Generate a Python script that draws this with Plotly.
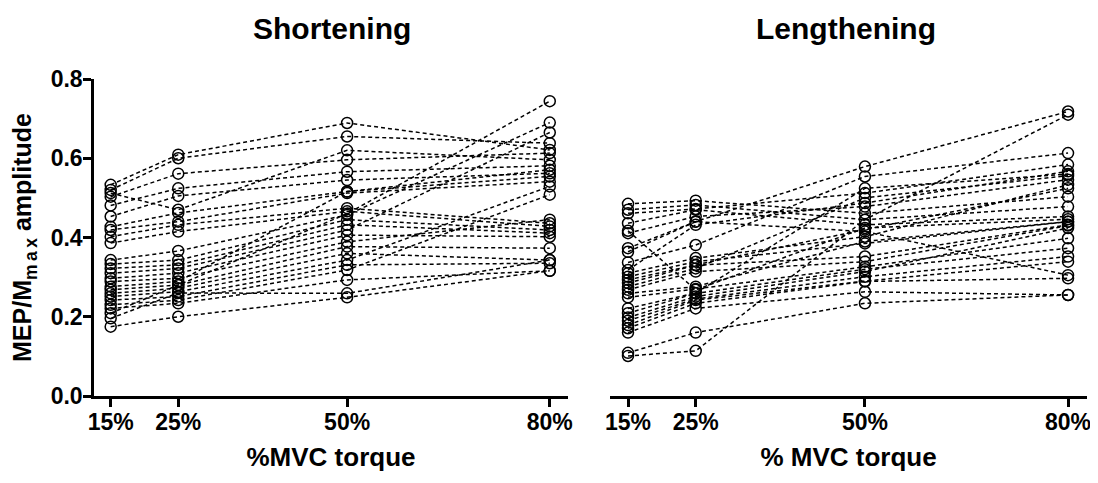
import plotly.graph_objects as go

# Intensities (% MVC torque)
x_levels = [15, 25, 50, 80]
x_ticktext = ["15%", "25%", "50%", "80%"]
y_tickvals = [0.0, 0.2, 0.4, 0.6, 0.8]
y_ticktext = ["0.0", "0.2", "0.4", "0.6", "0.8"]

# Shortening: one row per subject, values at 15, 25, 50, 80 % MVC
shortening = [
    [0.533, 0.609, 0.689, 0.621],
    [0.520, 0.600, 0.655, 0.638],
    [0.512, 0.470, 0.620, 0.596],
    [0.503, 0.561, 0.596, 0.613],
    [0.481, 0.524, 0.566, 0.581],
    [0.453, 0.505, 0.545, 0.562],
    [0.427, 0.462, 0.516, 0.554],
    [0.419, 0.440, 0.512, 0.541],
    [0.402, 0.432, 0.474, 0.436],
    [0.386, 0.415, 0.466, 0.428],
    [0.343, 0.366, 0.457, 0.690],
    [0.333, 0.343, 0.445, 0.419],
    [0.322, 0.331, 0.432, 0.411],
    [0.310, 0.322, 0.419, 0.665],
    [0.297, 0.310, 0.406, 0.402],
    [0.289, 0.297, 0.389, 0.445],
    [0.276, 0.289, 0.516, 0.571],
    [0.268, 0.280, 0.377, 0.373],
    [0.259, 0.272, 0.360, 0.343],
    [0.251, 0.263, 0.343, 0.529],
    [0.242, 0.251, 0.331, 0.335],
    [0.230, 0.242, 0.318, 0.508],
    [0.221, 0.234, 0.293, 0.316],
    [0.209, 0.280, 0.460, 0.744],
    [0.196, 0.260, 0.259, 0.343],
    [0.175, 0.200, 0.249, 0.316],
]

# Lengthening: one row per subject, values at 15, 25, 50, 80 % MVC
lengthening = [
    [0.485, 0.493, 0.461, 0.503],
    [0.470, 0.482, 0.445, 0.478],
    [0.461, 0.472, 0.512, 0.584],
    [0.436, 0.470, 0.432, 0.453],
    [0.417, 0.268, 0.424, 0.446],
    [0.411, 0.453, 0.478, 0.546],
    [0.373, 0.440, 0.579, 0.718],
    [0.364, 0.440, 0.415, 0.305],
    [0.337, 0.381, 0.554, 0.613],
    [0.318, 0.432, 0.487, 0.567],
    [0.310, 0.348, 0.402, 0.533],
    [0.301, 0.339, 0.385, 0.440],
    [0.293, 0.331, 0.420, 0.524],
    [0.285, 0.330, 0.352, 0.432],
    [0.276, 0.322, 0.500, 0.556],
    [0.268, 0.314, 0.339, 0.430],
    [0.259, 0.276, 0.390, 0.440],
    [0.249, 0.270, 0.326, 0.398],
    [0.221, 0.260, 0.524, 0.560],
    [0.209, 0.259, 0.320, 0.373],
    [0.198, 0.251, 0.314, 0.424],
    [0.190, 0.245, 0.301, 0.352],
    [0.179, 0.242, 0.290, 0.339],
    [0.171, 0.234, 0.289, 0.297],
    [0.160, 0.221, 0.263, 0.255],
    [0.109, 0.160, 0.234, 0.255],
    [0.101, 0.114, 0.445, 0.710],
]

FONT = "Liberation Sans, Arial, sans-serif"
W, H = 1098, 483
OFF = 8  # page body margin offset


def fx(sx):
    return (sx - OFF) / W


def fy(sy):
    return 1 - (sy - OFF) / H


fig = go.Figure()


def add_panel(data, xa, ya):
    for row in data:
        fig.add_trace(go.Scatter(
            x=x_levels, y=row, mode="lines+markers",
            xaxis=xa, yaxis=ya, showlegend=False, hoverinfo="skip",
            line=dict(color="black", width=1.5, dash="4px,3px"),
            marker=dict(symbol="circle-open", size=11, color="black",
                        line=dict(color="black", width=1.5)),
            cliponaxis=False,
        ))


add_panel(shortening, "x", "y")
add_panel(lengthening, "x2", "y2")

tickfont = dict(family=FONT, size=23, color="black", weight="bold")
titlefont = dict(family=FONT, size=26, color="black", weight="bold")

common_x = dict(
    tickmode="array", tickvals=x_levels, ticktext=x_ticktext,
    showgrid=False, zeroline=False, showline=True, linecolor="black", linewidth=2.5,
    ticks="outside", ticklen=8, tickwidth=2.5, tickcolor="black",
    tickfont=tickfont, fixedrange=True, automargin=False, ticklabelstandoff=-4,
)

fig.update_layout(
    template="none",
    width=W, height=H,
    margin=dict(l=0, r=0, t=0, b=0, pad=0),
    paper_bgcolor="white", plot_bgcolor="white",
    xaxis=dict(domain=[fx(94), fx(568)], range=[12.53, 82.7], anchor="y",
               title=dict(text="%MVC torque", font=titlefont, standoff=14), **common_x),
    xaxis2=dict(domain=[fx(610), fx(1087)], range=[12.34, 82.8], anchor="y2",
                title=dict(text="% MVC torque", font=titlefont, standoff=14), **common_x),
    yaxis=dict(domain=[fy(396), fy(79)], range=[0, 0.8], anchor="x",
               tickmode="array", tickvals=y_tickvals, ticktext=y_ticktext,
               showgrid=False, zeroline=False, showline=True, linecolor="black", linewidth=2.5,
               ticks="outside", ticklen=8, tickwidth=2.5, tickcolor="black",
               tickfont=tickfont, fixedrange=True, automargin=False, ticklabelstandoff=-4,
               title=dict(text="MEP/M<sub>m\u2009a\u2009x</sub> amplitude",
                          font=dict(family=FONT, size=25, color="black", weight="bold"),
                          standoff=12)),
    yaxis2=dict(domain=[fy(396), fy(79)], range=[0, 0.8], anchor="x2",
                showgrid=False, zeroline=False, showline=False, showticklabels=False,
                ticks="", fixedrange=True, automargin=False),
    annotations=[
        dict(text="Shortening", x=fx(331.5), y=fy(29), xref="paper", yref="paper",
             showarrow=False, font=dict(family=FONT, size=30, color="black", weight="bold"),
             xanchor="center", yanchor="middle"),
        dict(text="Lengthening", x=fx(846), y=fy(29), xref="paper", yref="paper",
             showarrow=False, font=dict(family=FONT, size=30, color="black", weight="bold"),
             xanchor="center", yanchor="middle"),
    ],
)

fig.write_html("out.html")
